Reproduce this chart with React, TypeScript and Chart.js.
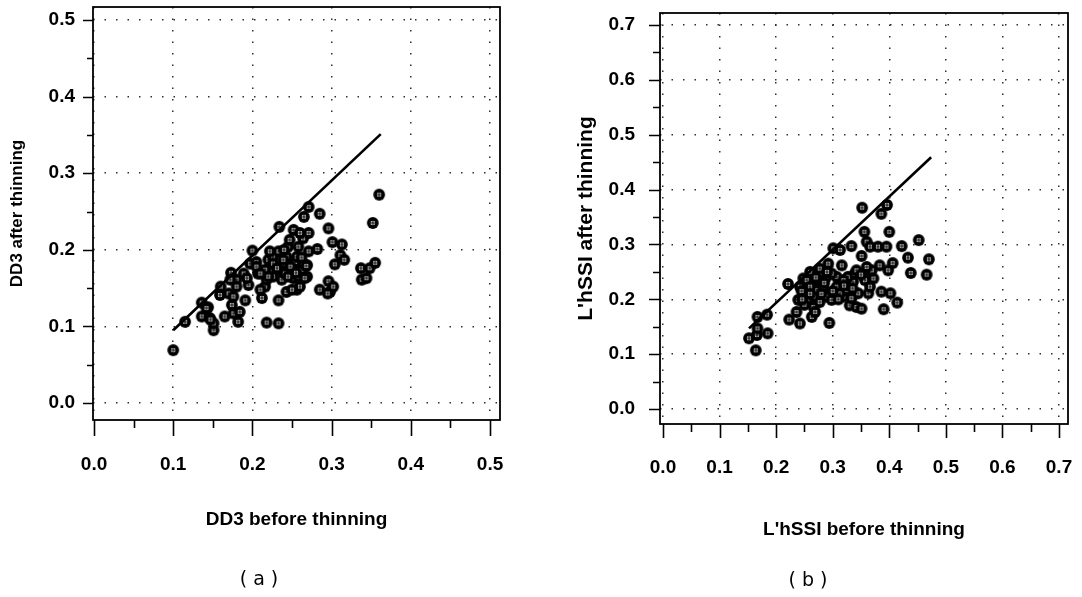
import React, { useEffect, useRef } from 'react';
import { Chart, registerables } from 'chart.js';
Chart.register(...registerables);

// (a) DD3 before / after thinning
const ddBeforeX = [
  0.100, 0.115, 0.136, 0.144, 0.136, 0.146, 0.151, 0.151, 0.160, 0.159, 0.165, 0.173, 0.170, 0.176, 0.176, 0.182,
  0.180, 0.184, 0.191, 0.195, 0.189, 0.200, 0.197, 0.205, 0.207, 0.212, 0.216, 0.218, 0.220, 0.222, 0.226, 0.233,
  0.234, 0.218, 0.233, 0.233, 0.235, 0.237, 0.239, 0.243, 0.243, 0.245, 0.247, 0.252, 0.250, 0.252, 0.254, 0.256,
  0.260, 0.262, 0.264, 0.265, 0.271, 0.271, 0.269, 0.269, 0.271, 0.285, 0.282, 0.285, 0.296, 0.296, 0.298, 0.301,
  0.302, 0.313, 0.311, 0.316, 0.304, 0.337, 0.348, 0.355, 0.338, 0.344, 0.352, 0.360,
  0.226, 0.231, 0.239, 0.241, 0.245, 0.252, 0.258, 0.264, 0.266, 0.250, 0.210, 0.180, 0.172, 0.193, 0.256, 0.258,
  0.260, 0.222, 0.226, 0.216, 0.142, 0.147, 0.174, 0.295, 0.268, 0.220, 0.205, 0.210,
  0.248, 0.262, 0.240, 0.255,
];
const ddAfterY = [
  0.069, 0.106, 0.131, 0.125, 0.113, 0.111, 0.095, 0.104, 0.152, 0.141, 0.113, 0.170, 0.143, 0.139, 0.117, 0.106,
  0.161, 0.119, 0.134, 0.154, 0.169, 0.199, 0.182, 0.184, 0.169, 0.137, 0.152, 0.161, 0.187, 0.174, 0.191, 0.198,
  0.230, 0.105, 0.104, 0.134, 0.174, 0.161, 0.182, 0.191, 0.145, 0.204, 0.213, 0.226, 0.176, 0.163, 0.184, 0.148,
  0.152, 0.174, 0.215, 0.243, 0.256, 0.222, 0.180, 0.165, 0.198, 0.247, 0.201, 0.148, 0.228, 0.159, 0.145, 0.210,
  0.152, 0.207, 0.193, 0.187, 0.181, 0.176, 0.176, 0.183, 0.161, 0.163, 0.235, 0.272,
  0.182, 0.176, 0.187, 0.169, 0.165, 0.174, 0.165, 0.182, 0.163, 0.148, 0.148, 0.152, 0.161, 0.163, 0.191, 0.204,
  0.222, 0.198, 0.165, 0.174, 0.124, 0.109, 0.128, 0.143, 0.179, 0.165, 0.178, 0.169,
  0.178, 0.190, 0.200, 0.170,
];
const ddLineX = [0.100, 0.362];
const ddLineY = [0.095, 0.351];
const ddTicks = [0, 0.05, 0.1, 0.15, 0.2, 0.25, 0.3, 0.35, 0.4, 0.45, 0.5];
const ddTickLabels = ['0.0', '0.1', '0.2', '0.3', '0.4', '0.5'];

// (b) L'hSSI before / after thinning
const lhBeforeX = [
  0.164, 0.152, 0.166, 0.167, 0.185, 0.167, 0.184, 0.221, 0.223, 0.242, 0.236, 0.239, 0.242, 0.248, 0.263, 0.266,
  0.260, 0.272, 0.277, 0.292, 0.294, 0.295, 0.301, 0.313, 0.307, 0.316, 0.319, 0.333, 0.336, 0.330, 0.342, 0.351,
  0.351, 0.352, 0.356, 0.360, 0.366, 0.363, 0.363, 0.372, 0.380, 0.386, 0.396, 0.395, 0.400, 0.386, 0.402, 0.383,
  0.398, 0.406, 0.390, 0.414, 0.422, 0.433, 0.438, 0.452, 0.466, 0.470,
  0.254, 0.260, 0.266, 0.274, 0.283, 0.289, 0.298, 0.307, 0.313, 0.325, 0.327, 0.339, 0.345, 0.357, 0.366, 0.369,
  0.342, 0.319, 0.289, 0.298, 0.277, 0.269, 0.333, 0.360, 0.245, 0.255, 0.250, 0.280, 0.270, 0.310,
  0.260, 0.285, 0.300, 0.320, 0.335, 0.350, 0.290, 0.246,
];
const lhAfterY = [
  0.107, 0.129, 0.135, 0.147, 0.138, 0.168, 0.172, 0.228, 0.163, 0.156, 0.177, 0.199, 0.223, 0.238, 0.168, 0.186,
  0.250, 0.217, 0.256, 0.265, 0.157, 0.211, 0.293, 0.290, 0.241, 0.262, 0.205, 0.297, 0.232, 0.189, 0.186, 0.183,
  0.279, 0.367, 0.323, 0.305, 0.296, 0.253, 0.211, 0.238, 0.296, 0.356, 0.372, 0.296, 0.323, 0.214, 0.211, 0.262,
  0.253, 0.266, 0.182, 0.194, 0.297, 0.276, 0.248, 0.308, 0.245, 0.273,
  0.235, 0.223, 0.205, 0.235, 0.223, 0.241, 0.247, 0.223, 0.211, 0.217, 0.241, 0.247, 0.211, 0.235, 0.223, 0.253,
  0.253, 0.235, 0.205, 0.199, 0.195, 0.177, 0.202, 0.259, 0.215, 0.200, 0.190, 0.210, 0.240, 0.200,
  0.210, 0.230, 0.215, 0.225, 0.220, 0.245, 0.250, 0.200,
];
const lhLineX = [0.152, 0.474];
const lhLineY = [0.147, 0.459];
const lhTicks = [0, 0.05, 0.1, 0.15, 0.2, 0.25, 0.3, 0.35, 0.4, 0.45, 0.5, 0.55, 0.6, 0.65, 0.7];
const lhTickLabels = ['0.0', '0.1', '0.2', '0.3', '0.4', '0.5', '0.6', '0.7'];

const FONT = 'Liberation Sans, Arial, Helvetica, sans-serif';

const isMajor = (v: number) => Math.abs(v * 10 - Math.round(v * 10)) < 1e-6;

function makeMarker(): HTMLCanvasElement {
  const r = 5.9;
  const s = 14;
  const c = document.createElement('canvas');
  c.width = s;
  c.height = s;
  const g = c.getContext('2d')!;
  const m = s / 2;
  g.fillStyle = '#000';
  g.beginPath();
  g.arc(m, m, r, 0, Math.PI * 2);
  g.fill();
  g.fillStyle = '#fff';
  g.beginPath();
  g.arc(m, m, 2.3, 0, Math.PI * 2);
  g.fill();
  g.strokeStyle = '#000';
  g.lineWidth = 1.1;
  g.beginPath();
  g.moveTo(m - 3, m);
  g.lineTo(m + 3, m);
  g.moveTo(m, m - 3);
  g.lineTo(m, m + 3);
  g.stroke();
  return c;
}

const framePlugin = {
  id: 'frame',
  afterDatasetsDraw(chart: any, _args: any, opts: any) {
    const { ctx, chartArea: a, scales } = chart;
    ctx.save();
    ctx.strokeStyle = '#000';
    ctx.lineWidth = 1.8;
    ctx.strokeRect(a.left, a.top, a.right - a.left, a.bottom - a.top);
    ctx.lineWidth = 1.6;
    ctx.beginPath();
    scales.x.ticks.forEach((t: any) => {
      const px = Math.round(scales.x.getPixelForValue(t.value)) + 0.5;
      const len = isMajor(t.value) ? opts.xMajor : opts.xMinor;
      ctx.moveTo(px, a.bottom);
      ctx.lineTo(px, a.bottom + len);
    });
    scales.y.ticks.forEach((t: any) => {
      const py = Math.round(scales.y.getPixelForValue(t.value)) + 0.5;
      const len = isMajor(t.value) ? opts.yMajor : opts.yMinor;
      ctx.moveTo(a.left, py);
      ctx.lineTo(a.left - len, py);
    });
    ctx.stroke();
    ctx.restore();
  },
};

type Spec = {
  xs: number[];
  ys: number[];
  lx: number[];
  ly: number[];
  ticks: number[];
  labels: string[];
  xMin: number;
  xMax: number;
  yMin: number;
  yMax: number;
  yWidth: number;
  xHeight: number;
  pad: { left: number; right: number; top: number; bottom: number };
  xTitle: string;
  yTitle: string;
  xTitleSize: number;
  yTitleSize: number;
  xTitlePad: number;
  yTitlePad: number;
  xTickPad: number;
  yTickPad: number;
  ticksLen: { xMajor: number; xMinor: number; yMajor: number; yMinor: number };
};

function buildConfig(s: Spec, marker: HTMLCanvasElement): any {
  const gridColor = (c: any) => (c.tick && isMajor(c.tick.value) ? '#2e2e2e' : 'rgba(0,0,0,0)');
  const tickLabel = (v: any) => (isMajor(Number(v)) ? s.labels[Math.round(Number(v) * 10)] : '');
  const setTicks = (scale: any) => {
    scale.ticks = s.ticks.map((value) => ({ value }));
  };
  const common = {
    type: 'linear',
    afterBuildTicks: setTicks,
    grid: {
      display: true,
      drawOnChartArea: true,
      drawTicks: false,
      color: gridColor,
      lineWidth: 1.5,
    },
    border: { display: false, dash: [1.5, 10] },
  };
  return {
    type: 'scatter',
    data: {
      datasets: [
        {
          data: s.xs.map((x, i) => ({ x, y: s.ys[i] })),
          pointStyle: marker,
          pointRadius: 5,
          order: 1,
        },
        {
          data: s.lx.map((x, i) => ({ x, y: s.ly[i] })),
          showLine: true,
          borderColor: '#000',
          borderWidth: 2.6,
          pointRadius: 0,
          order: 0,
        },
      ],
    },
    options: {
      responsive: false,
      animation: false,
      devicePixelRatio: 1,
      layout: { padding: s.pad },
      plugins: {
        legend: { display: false },
        tooltip: { enabled: false },
        frame: s.ticksLen,
      },
      scales: {
        x: {
          ...common,
          position: 'bottom',
          min: s.xMin,
          max: s.xMax,
          afterFit: (scale: any) => {
            scale.height = s.xHeight;
            scale.paddingLeft = 0;
            scale.paddingRight = 0;
          },
          ticks: {
            autoSkip: false,
            maxRotation: 0,
            padding: s.xTickPad,
            color: '#000',
            font: { family: FONT, size: 19, weight: 'bold' },
            callback: tickLabel,
          },
          title: {
            display: true,
            text: s.xTitle,
            color: '#000',
            font: { family: FONT, size: s.xTitleSize, weight: 'bold' },
            padding: { top: 0, bottom: s.xTitlePad },
          },
        },
        y: {
          ...common,
          position: 'left',
          min: s.yMin,
          max: s.yMax,
          afterFit: (scale: any) => {
            scale.width = s.yWidth;
            scale.paddingTop = 0;
            scale.paddingBottom = 0;
          },
          ticks: {
            autoSkip: false,
            padding: s.yTickPad,
            color: '#000',
            font: { family: FONT, size: 19, weight: 'bold' },
            callback: tickLabel,
          },
          title: {
            display: true,
            text: s.yTitle,
            color: '#000',
            font: { family: FONT, size: s.yTitleSize, weight: 'bold' },
            padding: { top: s.yTitlePad, bottom: 0 },
          },
        },
      },
    },
    plugins: [framePlugin],
  };
}

const specA: Spec = {
  xs: ddBeforeX,
  ys: ddAfterY,
  lx: ddLineX,
  ly: ddLineY,
  ticks: ddTicks,
  labels: ddTickLabels,
  xMin: -0.0013,
  xMax: 0.5126,
  yMin: -0.0222,
  yMax: 0.517,
  yWidth: 93,
  xHeight: 177,
  pad: { left: 0, right: 41, top: 7, bottom: 0 },
  xTitle: 'DD3 before thinning',
  yTitle: 'DD3 after thinning',
  xTitleSize: 19,
  yTitleSize: 17,
  xTitlePad: 65.6,
  yTitlePad: 6.8,
  xTickPad: 33.5,
  yTickPad: 18,
  ticksLen: { xMajor: 16, xMinor: 8, yMajor: 10, yMinor: 6 },
};

const specB: Spec = {
  xs: lhBeforeX,
  ys: lhAfterY,
  lx: lhLineX,
  ly: lhLineY,
  ticks: lhTicks,
  labels: lhTickLabels,
  xMin: -0.0053,
  xMax: 0.7159,
  yMin: -0.0273,
  yMax: 0.722,
  yWidth: 119,
  xHeight: 173,
  pad: { left: 0, right: 14, top: 13, bottom: 0 },
  xTitle: "L'hSSI before thinning",
  yTitle: "L'hSSI after thinning",
  xTitleSize: 19,
  yTitleSize: 21,
  xTitlePad: 55.6,
  yTitlePad: 32.4,
  xTickPad: 32.5,
  yTickPad: 25,
  ticksLen: { xMajor: 14, xMinor: 8, yMajor: 11, yMinor: 7 },
};

function Panel({ spec, left }: { spec: Spec; left: number }) {
  const ref = useRef<HTMLCanvasElement | null>(null);
  useEffect(() => {
    if (!ref.current) return;
    const chart = new Chart(ref.current, buildConfig(spec, makeMarker()));
    return () => chart.destroy();
  }, [spec]);
  return (
    <canvas
      ref={ref}
      width={541}
      height={597}
      style={{ position: 'absolute', left, top: 0, width: 541, height: 597 }}
    />
  );
}

const captionStyle: React.CSSProperties = {
  position: 'absolute',
  transform: 'translate(-50%, -50%)',
  fontFamily: 'DejaVu Sans, sans-serif',
  fontSize: 19,
  color: '#000',
  whiteSpace: 'pre',
  lineHeight: 1,
};

export default function App() {
  return (
    <div
      style={{
        position: 'absolute',
        left: 0,
        top: 0,
        width: 1082,
        height: 597,
        background: '#fff',
        overflow: 'hidden',
      }}
    >
      <Panel spec={specA} left={0} />
      <Panel spec={specB} left={541} />
      <div style={{ ...captionStyle, left: 259, top: 578 }}>( a )</div>
      <div style={{ ...captionStyle, left: 808, top: 579 }}>( b )</div>
    </div>
  );
}
